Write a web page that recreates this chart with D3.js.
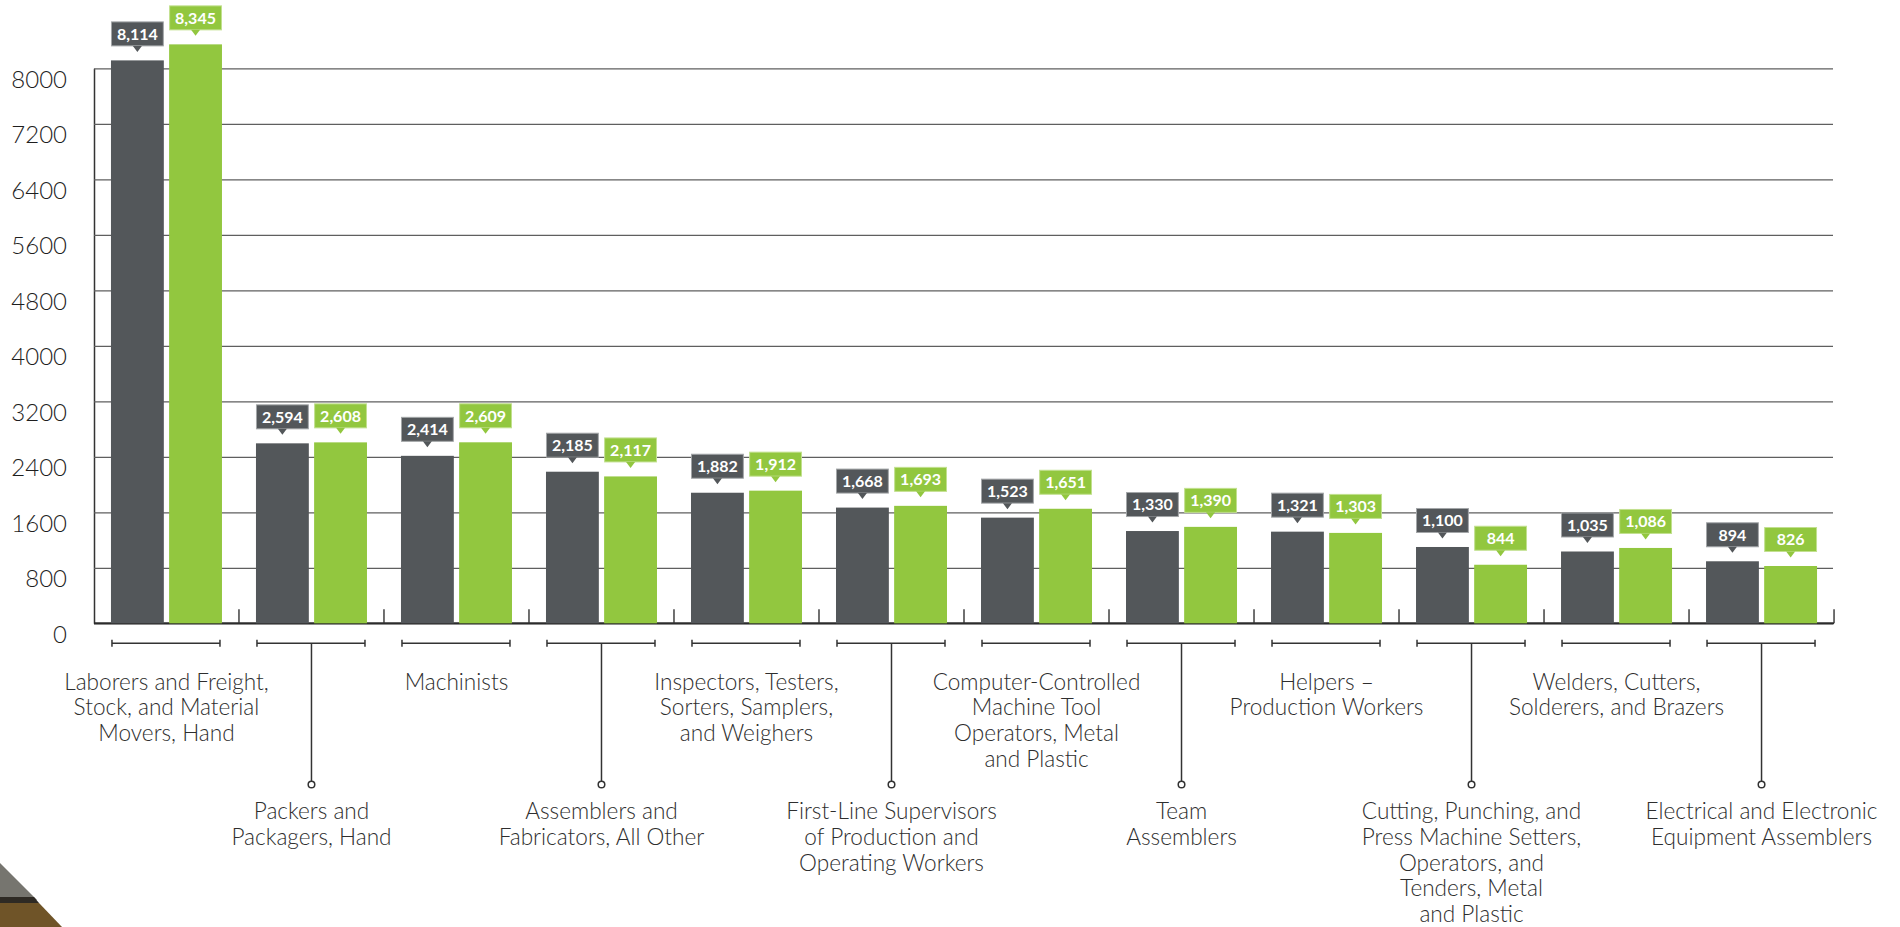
<!DOCTYPE html>
<html><head><meta charset="utf-8">
<script src="https://cdn.jsdelivr.net/npm/d3@7"></script>
<style>
html,body{margin:0;padding:0;background:#fff;overflow:hidden;}
svg{display:block;}
</style></head><body>
<svg id="chart" width="1900" height="927"></svg>
<script>
// ---- data ----
const categoryLines = [
  ["Laborers and Freight,", "Stock, and Material", "Movers, Hand"],
  ["Packers and", "Packagers, Hand"],
  ["Machinists"],
  ["Assemblers and", "Fabricators, All Other"],
  ["Inspectors, Testers,", "Sorters, Samplers,", "and Weighers"],
  ["First-Line Supervisors", "of Production and", "Operating Workers"],
  ["Computer-Controlled", "Machine Tool", "Operators, Metal", "and Plastic"],
  ["Team", "Assemblers"],
  ["Helpers \u2013", "Production Workers"],
  ["Cutting, Punching, and", "Press Machine Setters,", "Operators, and", "Tenders, Metal", "and Plastic"],
  ["Welders, Cutters,", "Solderers, and Brazers"],
  ["Electrical and Electronic", "Equipment Assemblers"]
];
const categories = categoryLines.map(l => l.join(" "));
const seriesNames = ["Series 1", "Series 2"];
const series1Values = [8114, 2594, 2414, 2185, 1882, 1668, 1523, 1330, 1321, 1100, 1035, 894];
const series2Values = [8345, 2608, 2609, 2117, 1912, 1693, 1651, 1390, 1303, 844, 1086, 826];
const yTickValues = [0, 800, 1600, 2400, 3200, 4000, 4800, 5600, 6400, 7200, 8000];

// ---- styles ----
const colors = {"Series 1": "#53575a", "Series 2": "#92c73f"};
const boxStroke = {"Series 1": "#a3a6a8", "Series 2": "#c2e08f"};
const FONT = "Lato, 'Open Sans', sans-serif";

const svg = d3.select("#chart");

const rows = categories.map((c, i) => ({
  cat: c, lines: categoryLines[i], idx: i,
  vals: [{key: seriesNames[0], v: series1Values[i]}, {key: seriesNames[1], v: series2Values[i]}]
}));

const x0 = d3.scaleBand().domain(categories).range([94, 1834])
  .paddingInner(0.2345).paddingOuter(0.117);
const x1 = d3.scaleBand().domain(seriesNames).range([0, x0.bandwidth()]).paddingInner(0.091);
const y = d3.scaleLinear().domain([0, 8000]).range([623.3, 68.3]);

// decorative corner (from the source page)
const corner = svg.append("g");
corner.append("polygon").attr("points", "0,863 37,900 0,900").attr("fill", "#76756f");
corner.append("polygon").attr("points", "0,897 34,897 39,903 0,903").attr("fill", "#2e2a24");
corner.append("polygon").attr("points", "0,903 39,903 62,927 0,927").attr("fill", "#6f5428");

// gridlines + y axis
const yAxis = d3.axisLeft(y).tickValues(yTickValues).tickFormat(d3.format("d"))
  .tickSize(-(1833 - 94)).tickSizeOuter(0).tickPadding(27);
const gy = svg.append("g").attr("transform", "translate(94,0)").call(yAxis);
gy.select(".domain").attr("stroke", "#333").attr("stroke-width", 1.5);
gy.selectAll(".tick line").attr("stroke", "#5f5f5f").attr("stroke-width", 1.3);
gy.selectAll(".tick text")
  .attr("dy", null).attr("y", 19)
  .attr("font-family", FONT).attr("font-weight", 300).attr("font-size", 24).attr("fill", "#1e1e1e");

// baseline
const xb = d3.axisBottom(x0).tickValues([]).tickSizeOuter(0);
const gx = svg.append("g").attr("transform", `translate(0,${y(0)})`).call(xb);
gx.select(".domain").attr("d", `M94,0H1834`).attr("stroke", "#2b2b2b").attr("stroke-width", 2);

// small separators at group boundaries
const boundaries = categories.map(c => x0(c) + x0.bandwidth() + x0.step() * x0.paddingInner() / 2);
svg.append("g").selectAll("line").data(boundaries).join("line")
  .attr("x1", d => d).attr("x2", d => d)
  .attr("y1", y(0)).attr("y2", y(0) - 14)
  .attr("stroke", "#333").attr("stroke-width", 1.4);

// bars
const groups = svg.append("g").selectAll("g").data(rows).join("g")
  .attr("transform", d => `translate(${x0(d.cat)},0)`);
groups.selectAll("rect").data(d => d.vals).join("rect")
  .attr("x", d => x1(d.key)).attr("width", x1.bandwidth())
  .attr("y", d => y(d.v)).attr("height", d => y(0) - y(d.v))
  .attr("fill", d => colors[d.key]);

// value callouts
const fmt = d3.format(",");
const call = groups.selectAll("g.call").data(d => d.vals).join("g").attr("class", "call");
const BOX_H = 25, GAP = 14, TRI_H = 6, TRI_W = 4.5;
call.append("rect")
  .attr("x", d => x1(d.key) + 0.5).attr("width", x1.bandwidth() - 1)
  .attr("y", d => y(d.v) - GAP - BOX_H + 0.5).attr("height", BOX_H - 1)
  .attr("fill", d => colors[d.key]).attr("stroke", d => boxStroke[d.key]).attr("stroke-width", 1);
call.append("path")
  .attr("d", d => {
    const cx = x1(d.key) + x1.bandwidth() / 2, by = y(d.v) - GAP;
    return `M${cx - TRI_W},${by - 0.5}L${cx + TRI_W},${by - 0.5}L${cx},${by + TRI_H - 0.5}Z`;
  })
  .attr("fill", d => colors[d.key]);
call.append("text")
  .attr("x", d => x1(d.key) + x1.bandwidth() / 2)
  .attr("y", d => y(d.v) - GAP - BOX_H / 2 + 5.8)
  .attr("text-anchor", "middle")
  .attr("font-family", FONT).attr("font-weight", 700).attr("font-size", 16)
  .attr("fill", "#fff")
  .text(d => fmt(d.v));

// brackets under groups
const BR_Y = 643.3;
const br = groups.append("g").attr("stroke", "#333").attr("stroke-width", 1.5).attr("fill", "none");
br.append("line").attr("x1", 1).attr("x2", x0.bandwidth() - 2).attr("y1", BR_Y).attr("y2", BR_Y);
br.append("line").attr("x1", 1).attr("x2", 1).attr("y1", BR_Y - 3.5).attr("y2", BR_Y + 3.5);
br.append("line").attr("x1", x0.bandwidth() - 2).attr("x2", x0.bandwidth() - 2).attr("y1", BR_Y - 3.5).attr("y2", BR_Y + 3.5);

// stems for alternating (lower) labels
const low = groups.filter(d => d.idx % 2 === 1);
low.append("line")
  .attr("x1", x0.bandwidth() / 2).attr("x2", x0.bandwidth() / 2)
  .attr("y1", BR_Y).attr("y2", 781)
  .attr("stroke", "#333").attr("stroke-width", 1.5);
low.append("circle")
  .attr("cx", x0.bandwidth() / 2).attr("cy", 784.5).attr("r", 3.3)
  .attr("fill", "#fff").attr("stroke", "#333").attr("stroke-width", 1.5);

// category labels
groups.append("text")
  .attr("text-anchor", "middle")
  .attr("font-family", FONT).attr("font-weight", 300).attr("font-size", 22.6).attr("fill", "#2e2e2e")
  .attr("transform", d => `translate(${x0.bandwidth() / 2},${d.idx % 2 === 0 ? 689.5 : 819})`)
  .selectAll("tspan").data(d => d.lines).join("tspan")
  .attr("x", 0).attr("y", (d, i) => i * 25.8)
  .text(d => d);
</script>
</body></html>
